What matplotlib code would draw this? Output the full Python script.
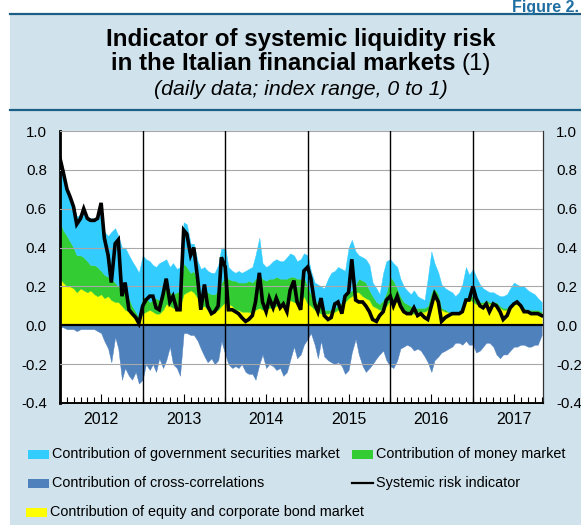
import numpy as np
import pandas as pd
import matplotlib
matplotlib.use('Agg')
import matplotlib.pyplot as plt
import matplotlib.dates as mdates
from matplotlib.patches import Rectangle
from matplotlib.lines import Line2D

plt.rcParams['font.family'] = ['Liberation Sans', 'DejaVu Sans']
plt.rcParams['axes.unicode_minus'] = False

# ---------------- data (semi-monthly readings, Jan 2012 - Nov 2017) ----------------
dates = pd.date_range('2012-01-01', periods=141, freq='SMS')

indicator = [
    0.86, 0.79, 0.70, 0.66, 0.61, 0.52, 0.55, 0.60, 0.55, 0.54, 0.54, 0.55, 0.63, 0.45, 0.36, 0.22, 0.42, 0.44, 0.15, 0.22, 0.08, 0.06, 0.04, 0.01,
    0.10, 0.13, 0.15, 0.15, 0.09, 0.08, 0.16, 0.24, 0.12, 0.15, 0.08, 0.08, 0.49, 0.47, 0.36, 0.40, 0.24, 0.08, 0.21, 0.10, 0.06, 0.07, 0.10, 0.35,
    0.30, 0.08, 0.08, 0.07, 0.06, 0.04, 0.02, 0.03, 0.05, 0.12, 0.27, 0.12, 0.07, 0.14, 0.09, 0.14, 0.09, 0.11, 0.07, 0.18, 0.23, 0.12, 0.08, 0.28,
    0.30, 0.24, 0.11, 0.07, 0.14, 0.05, 0.03, 0.04, 0.11, 0.12, 0.06, 0.15, 0.17, 0.34, 0.13, 0.12, 0.12, 0.10, 0.07, 0.03, 0.02, 0.05, 0.07, 0.13,
    0.15, 0.10, 0.15, 0.10, 0.07, 0.06, 0.06, 0.09, 0.05, 0.06, 0.04, 0.03, 0.10, 0.16, 0.12, 0.02, 0.04, 0.05, 0.06, 0.06, 0.06, 0.07, 0.13, 0.13,
    0.20, 0.14, 0.10, 0.09, 0.11, 0.07, 0.11, 0.10, 0.07, 0.03, 0.05, 0.09, 0.11, 0.12, 0.10, 0.07, 0.07, 0.06, 0.06, 0.06, 0.05,
]

# cumulative level reached by the equity/corporate bond contribution (yellow)
equity_level = [
    0.24, 0.22, 0.20, 0.20, 0.19, 0.17, 0.19, 0.18, 0.17, 0.18, 0.16, 0.15, 0.16, 0.14, 0.15, 0.13, 0.12, 0.12, 0.10, 0.08, 0.07, 0.05, 0.04, 0.02,
    0.06, 0.07, 0.08, 0.07, 0.06, 0.06, 0.08, 0.11, 0.10, 0.09, 0.09, 0.10, 0.16, 0.17, 0.18, 0.17, 0.14, 0.09, 0.10, 0.08, 0.07, 0.07, 0.08, 0.10,
    0.12, 0.11, 0.10, 0.08, 0.08, 0.07, 0.07, 0.07, 0.06, 0.08, 0.09, 0.08, 0.08, 0.09, 0.09, 0.10, 0.10, 0.11, 0.11, 0.13, 0.12, 0.12, 0.12, 0.15,
    0.11, 0.10, 0.08, 0.07, 0.06, 0.06, 0.06, 0.07, 0.07, 0.08, 0.09, 0.12, 0.14, 0.15, 0.17, 0.17, 0.15, 0.14, 0.13, 0.10, 0.09, 0.08, 0.08, 0.10,
    0.13, 0.12, 0.12, 0.10, 0.08, 0.07, 0.06, 0.06, 0.07, 0.07, 0.07, 0.08, 0.12, 0.14, 0.13, 0.08, 0.07, 0.07, 0.07, 0.07, 0.07, 0.09, 0.13, 0.14,
    0.12, 0.11, 0.11, 0.11, 0.12, 0.11, 0.11, 0.11, 0.09, 0.08, 0.08, 0.10, 0.11, 0.11, 0.10, 0.08, 0.07, 0.07, 0.07, 0.07, 0.06,
]

# cumulative level after adding the money market contribution (green)
money_level = [
    0.54, 0.49, 0.46, 0.43, 0.40, 0.36, 0.36, 0.35, 0.33, 0.31, 0.31, 0.30, 0.28, 0.26, 0.25, 0.24, 0.22, 0.20, 0.19, 0.17, 0.14, 0.10, 0.07, 0.04,
    0.15, 0.14, 0.12, 0.13, 0.14, 0.13, 0.17, 0.22, 0.17, 0.16, 0.17, 0.18, 0.32, 0.30, 0.27, 0.28, 0.22, 0.16, 0.20, 0.17, 0.16, 0.16, 0.18, 0.22,
    0.25, 0.24, 0.23, 0.23, 0.22, 0.22, 0.22, 0.23, 0.22, 0.24, 0.26, 0.24, 0.23, 0.24, 0.24, 0.25, 0.24, 0.24, 0.24, 0.25, 0.25, 0.24, 0.24, 0.25,
    0.20, 0.16, 0.14, 0.11, 0.09, 0.08, 0.08, 0.08, 0.09, 0.10, 0.12, 0.15, 0.17, 0.18, 0.21, 0.24, 0.23, 0.22, 0.18, 0.15, 0.12, 0.11, 0.13, 0.17,
    0.25, 0.23, 0.19, 0.15, 0.12, 0.11, 0.10, 0.09, 0.09, 0.09, 0.09, 0.10, 0.17, 0.19, 0.16, 0.09, 0.08, 0.07, 0.07, 0.07, 0.07, 0.10, 0.14, 0.15,
    0.15, 0.13, 0.12, 0.12, 0.13, 0.12, 0.12, 0.12, 0.10, 0.09, 0.09, 0.11, 0.12, 0.12, 0.11, 0.09, 0.08, 0.08, 0.08, 0.08, 0.07,
]

# cumulative level after adding the government securities contribution (cyan)
gov_level = [
    0.86, 0.79, 0.70, 0.66, 0.62, 0.56, 0.57, 0.60, 0.56, 0.55, 0.55, 0.56, 0.63, 0.48, 0.46, 0.48, 0.50, 0.46, 0.40, 0.40, 0.36, 0.33, 0.30, 0.27,
    0.36, 0.34, 0.33, 0.31, 0.30, 0.32, 0.33, 0.34, 0.30, 0.32, 0.29, 0.30, 0.53, 0.52, 0.42, 0.42, 0.33, 0.29, 0.30, 0.28, 0.27, 0.27, 0.31, 0.40,
    0.40, 0.30, 0.28, 0.27, 0.28, 0.27, 0.28, 0.29, 0.30, 0.36, 0.45, 0.32, 0.30, 0.31, 0.33, 0.34, 0.33, 0.33, 0.35, 0.37, 0.36, 0.33, 0.34, 0.37,
    0.36, 0.28, 0.22, 0.21, 0.20, 0.19, 0.24, 0.27, 0.28, 0.30, 0.29, 0.28, 0.40, 0.44, 0.38, 0.36, 0.35, 0.34, 0.31, 0.22, 0.19, 0.16, 0.27, 0.33,
    0.34, 0.32, 0.30, 0.24, 0.20, 0.18, 0.16, 0.18, 0.15, 0.14, 0.13, 0.24, 0.38, 0.32, 0.27, 0.21, 0.19, 0.18, 0.17, 0.15, 0.17, 0.21, 0.30, 0.26,
    0.29, 0.25, 0.21, 0.19, 0.18, 0.17, 0.17, 0.16, 0.15, 0.15, 0.16, 0.19, 0.22, 0.21, 0.20, 0.20, 0.18, 0.17, 0.16, 0.14, 0.12,
]

# contribution of cross-correlations (negative)
cross = [
    -0.01, -0.01, -0.02, -0.02, -0.02, -0.03, -0.02, -0.02, -0.02, -0.02, -0.02, -0.03, -0.04, -0.08, -0.12, -0.19, -0.06, -0.12, -0.28, -0.22, -0.26, -0.28, -0.24, -0.30,
    -0.28, -0.20, -0.23, -0.20, -0.24, -0.17, -0.22, -0.18, -0.11, -0.20, -0.22, -0.26, -0.04, -0.04, -0.05, -0.05, -0.08, -0.12, -0.16, -0.19, -0.17, -0.20, -0.18, -0.08,
    -0.15, -0.20, -0.22, -0.21, -0.22, -0.20, -0.24, -0.25, -0.25, -0.28, -0.20, -0.15, -0.22, -0.20, -0.21, -0.23, -0.22, -0.26, -0.24, -0.18, -0.11, -0.17, -0.15, -0.10,
    -0.07, -0.04, -0.10, -0.17, -0.08, -0.16, -0.18, -0.19, -0.20, -0.19, -0.21, -0.25, -0.23, -0.14, -0.07, -0.15, -0.21, -0.24, -0.22, -0.20, -0.17, -0.15, -0.13, -0.18,
    -0.21, -0.22, -0.18, -0.12, -0.11, -0.10, -0.11, -0.13, -0.12, -0.13, -0.16, -0.19, -0.24, -0.18, -0.16, -0.14, -0.13, -0.12, -0.11, -0.09, -0.09, -0.10, -0.08, -0.10,
    -0.10, -0.14, -0.13, -0.11, -0.09, -0.09, -0.11, -0.15, -0.17, -0.15, -0.15, -0.13, -0.11, -0.11, -0.10, -0.10, -0.11, -0.11, -0.10, -0.10, -0.05,
]

year_breaks = [2013, 2014, 2015, 2016, 2017]
y_ticks = [-0.4, -0.2, 0.0, 0.2, 0.4, 0.6, 0.8, 1.0]

labels = {
    'gov': 'Contribution of government securities market',
    'money': 'Contribution of money market',
    'cross': 'Contribution of cross-correlations',
    'line': 'Systemic risk indicator',
    'equity': 'Contribution of equity and corporate bond market',
}

# ---------------- style ----------------
C_GOV = '#33ccff'
C_MONEY = '#33cc33'
C_CROSS = '#4f81bd'
C_EQ = '#ffff00'
BG = '#d0e2ec'
DARK = '#1b5f86'

W, H = 581, 525
fig = plt.figure(figsize=(W / 100, H / 100), dpi=100)
fig.patch.set_facecolor('white')


def fx(px):
    return px / W


def fy(py):
    return 1 - py / H


fig.patches.append(Rectangle((fx(10), 0), 1 - fx(10), fy(14), transform=fig.transFigure,
                             facecolor=BG, edgecolor='none', zorder=-5))
for yy in (14, 110):
    fig.add_artist(Line2D([fx(10), 1], [fy(yy), fy(yy)], transform=fig.transFigure,
                          color=DARK, lw=1.6, zorder=-4))

fig.text(fx(512), fy(12), 'Figure 2.', fontsize=11.5, fontweight='bold', color='#1f6fa3',
         ha='left', va='baseline')

TX = 301  # horizontal centre of the heading block, px
fig.text(fx(TX), fy(46), 'Indicator of systemic liquidity risk', fontsize=17.4,
         fontweight='bold', ha='center', va='baseline')

# second title line: bold text + regular "(1)", centred as a whole
renderer = fig.canvas.get_renderer()
ta = fig.text(0, fy(70), 'in the Italian financial markets ', fontsize=17.4,
              fontweight='bold', ha='left', va='baseline')
tb = fig.text(0, fy(70), '(1)', fontsize=17.4, ha='left', va='baseline')
wa = ta.get_window_extent(renderer).width
wb = tb.get_window_extent(renderer).width
x_start = TX - (wa + wb) / 2
ta.set_x(fx(x_start))
tb.set_x(fx(x_start + wa))

fig.text(fx(TX), fy(95), '(daily data; index range, 0 to 1)', fontsize=15.3, style='italic',
         ha='center', va='baseline')

ax = fig.add_axes([fx(60), fy(403), fx(483), (403 - 131) / H])
ax.set_facecolor('white')
ax.set_zorder(1)

eq = np.asarray(equity_level)
mo = np.maximum(np.asarray(money_level), eq)
go = np.maximum(np.asarray(gov_level), mo)
cr = np.asarray(cross)

ax.fill_between(dates, 0, eq, color=C_EQ, lw=0.3, zorder=1)
ax.fill_between(dates, eq, mo, color=C_MONEY, lw=0.3, zorder=1)
ax.fill_between(dates, mo, go, color=C_GOV, lw=0.3, zorder=1)
ax.fill_between(dates, cr, 0, color=C_CROSS, lw=0.3, zorder=1)

ax.set_ylim(-0.4, 1.0)
ax.set_xlim(pd.Timestamp('2012-01-01'), pd.Timestamp('2017-11-07'))
ax.set_yticks(y_ticks)
ax.set_yticklabels([f'{v:.1f}' for v in y_ticks])
ax.yaxis.grid(True, color='#a8a8a8', lw=0.8)
ax.set_axisbelow(False)

for yr in year_breaks:
    ax.axvline(pd.Timestamp(f'{yr}-01-01'), color='black', lw=1.0, zorder=3)
ax.axhline(0, color='black', lw=1.6, zorder=3.5)
ax.plot(dates, indicator, color='black', lw=2.6, zorder=4, solid_joinstyle='miter')

ax.xaxis.set_major_locator(mdates.MonthLocator(bymonth=7))
ax.xaxis.set_major_formatter(mdates.DateFormatter('%Y'))
ax.xaxis.set_minor_locator(mdates.MonthLocator())
ax.tick_params(axis='x', which='major', direction='in', length=6.5, width=0.8,
               labelsize=11.4, pad=6.5, top=False)
ax.tick_params(axis='x', which='minor', direction='in', length=4.3, width=0.8, top=False)
ax.tick_params(axis='y', which='both', length=0, labelsize=10.8, left=False, right=False,
               labelleft=True, labelright=True, pad=9.5)

ax.spines['left'].set_linewidth(2.0)
ax.spines['left'].set_color('black')
ax.spines['bottom'].set_linewidth(1.4)
ax.spines['right'].set_linewidth(0.9)
ax.spines['right'].set_color('#333333')
ax.spines['top'].set_visible(False)

# ---------------- legend (drawn manually to match layout) ----------------
LFS = 10.4
entries = [
    ('patch', C_GOV, labels['gov'], 28, 454),
    ('patch', C_MONEY, labels['money'], 352, 454),
    ('patch', C_CROSS, labels['cross'], 28, 483),
    ('line', 'black', labels['line'], 352, 483),
    ('patch', C_EQ, labels['equity'], 26, 512),
]
for kind, col, lab, x0, yc in entries:
    if kind == 'patch':
        fig.patches.append(Rectangle((fx(x0), fy(yc + 4.5)), fx(21), 9 / H,
                                     transform=fig.transFigure, facecolor=col,
                                     edgecolor='none', zorder=2))
    else:
        fig.add_artist(Line2D([fx(x0), fx(x0 + 21)], [fy(yc), fy(yc)],
                              transform=fig.transFigure, color=col, lw=1.6))
    fig.text(fx(x0 + 24), fy(yc), lab, fontsize=LFS, ha='left', va='center')

fig.savefig('out.png', dpi=100, facecolor=fig.get_facecolor())
